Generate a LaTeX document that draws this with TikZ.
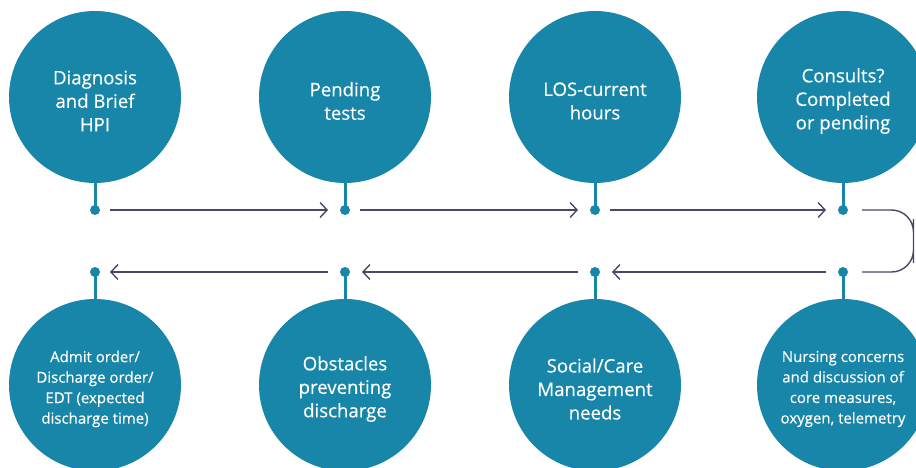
\documentclass[tikz,border=0pt]{standalone}
\usepackage{fontspec}
\setmainfont{Open Sans}[FakeBold=0.35]
\usetikzlibrary{arrows.meta}
\definecolor{teal}{RGB}{24,134,168}
\definecolor{flowline}{RGB}{72,72,104}
\begin{document}
\begin{tikzpicture}[x=1pt,y=-1pt,
  step circle/.style={circle,fill=teal,minimum size=172pt,inner sep=0pt},
  step text/.style={text=white,align=center,inner sep=0pt,font=\fontsize{18.6}{23.5}\selectfont},
  small text/.style={font=\fontsize{15}{20.5}\selectfont},
  knob/.style={circle,fill=teal,minimum size=10pt,inner sep=0pt},
  stem/.style={draw=teal,line width=3pt},
  flow/.style={draw=flowline,line width=1.4pt,-{Straight Barb[length=7pt,width=15pt,line width=1.4pt]}},
  loop/.style={draw=flowline,line width=1.4pt,rounded corners=22pt}]
\useasboundingbox (0,0) rectangle (916,468);
\clip (0,0) rectangle (916,468);

% upper row
\node[step circle] (c1) at (95,97) {};
\node[step circle] (c2) at (345,97) {};
\node[step circle] (c3) at (595,97) {};
\node[step circle] (c4) at (843,97) {};

% lower row
\node[step circle] (c8) at (95,385) {};
\node[step circle] (c7) at (345,385) {};
\node[step circle] (c6) at (595,385) {};
\node[step circle] (c5) at (843,385) {};

% captions, set a little below each circle's centre
\node[step text] (t1) at ([yshift=-4pt]c1.center) {Diagnosis\\and Brief\\HPI};
\node[step text] (t2) at ([yshift=-4pt]c2.center) {Pending\\tests};
\node[step text] (t3) at ([yshift=-4pt]c3.center) {LOS-current\\hours};
\node[step text] (t4) at ([yshift=-4pt]c4.center) {Consults?\\Completed\\or pending};
\node[step text,small text] (t8) at ([yshift=-4pt]c8.center) {Admit order/\\Discharge order/\\EDT (expected\\discharge time)};
\node[step text] (t7) at ([yshift=-4pt]c7.center) {Obstacles\\preventing\\discharge};
\node[step text] (t6) at ([yshift=-4pt]c6.center) {Social/Care\\Management\\needs};
\node[step text,small text] (t5) at ([yshift=-4pt]c5.center) {Nursing concerns\\and discussion of\\core measures,\\oxygen, telemetry};

% knobs on stems
\foreach \i/\x in {1/95,2/345,3/595,4/843} {
  \node[knob] (d\i) at (\x,210) {};
  \draw[stem] (c\i.south) -- (d\i.center);
}
\foreach \i/\x in {8/95,7/345,6/595,5/843} {
  \node[knob] (d\i) at (\x,272) {};
  \draw[stem] (c\i.north) -- (d\i.center);
}

% forward flow along the top
\draw[flow] ([xshift=15pt]d1.center) -- ([xshift=-17pt]d2.center);
\draw[flow] ([xshift=15pt]d2.center) -- ([xshift=-17pt]d3.center);
\draw[flow] ([xshift=15pt]d3.center) -- ([xshift=-17pt]d4.center);

% turn-around on the right
\coordinate (turn) at (913.5,241);
\draw[loop] ([xshift=19pt]d4.center) -| (turn) |- ([xshift=19pt]d5.center);

% return flow along the bottom
\draw[flow] ([xshift=-17pt]d5.center) -- ([xshift=17pt]d6.center);
\draw[flow] ([xshift=-17pt]d6.center) -- ([xshift=17pt]d7.center);
\draw[flow] ([xshift=-17pt]d7.center) -- ([xshift=15pt]d8.center);
\end{tikzpicture}
\end{document}
